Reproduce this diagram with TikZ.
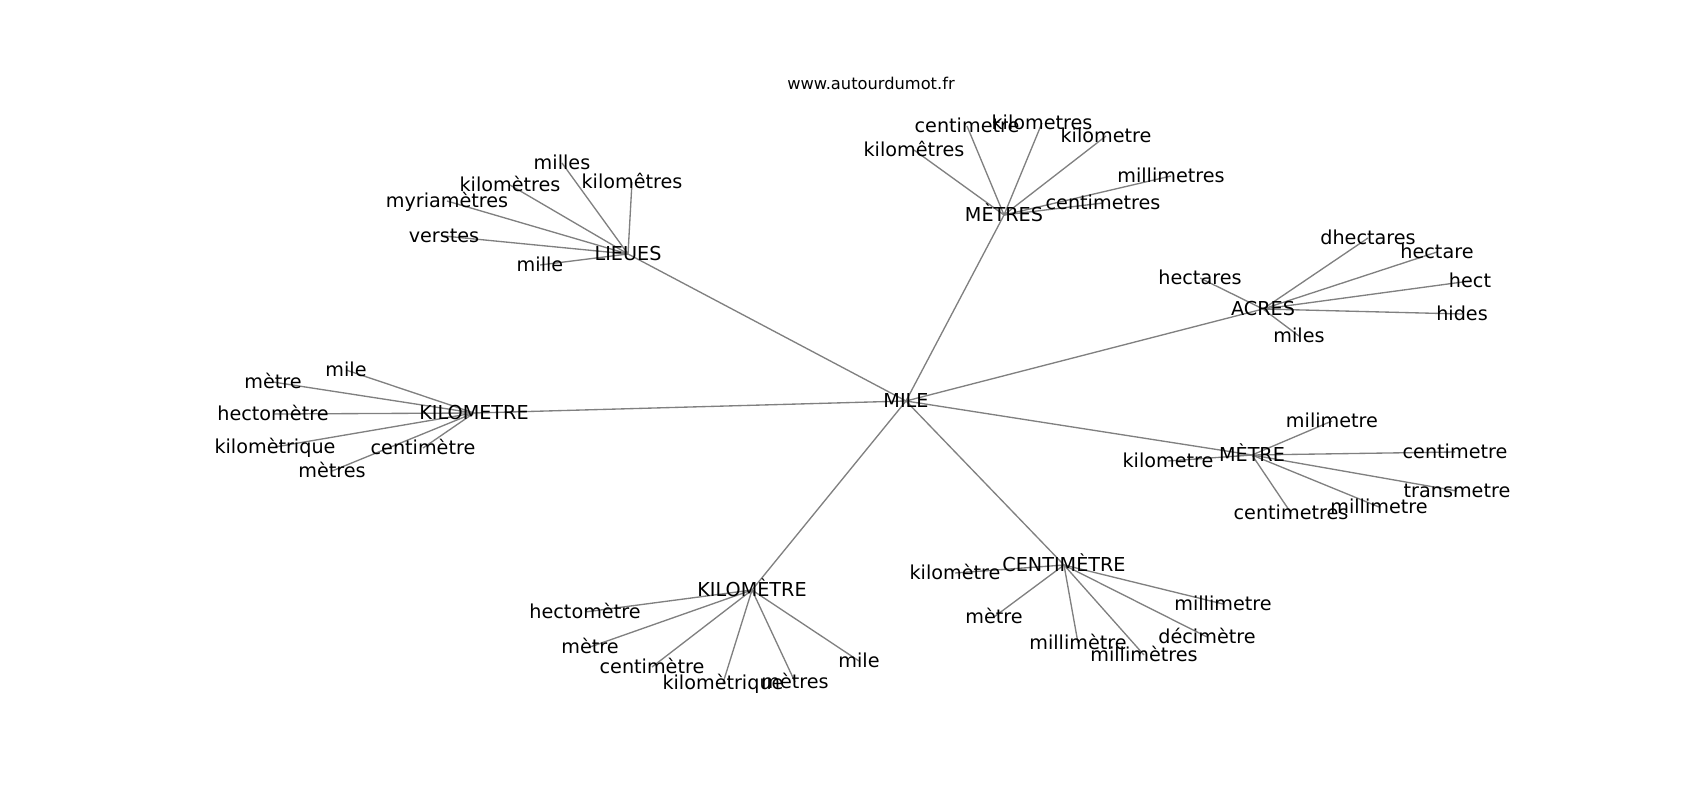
\documentclass[tikz,border=0pt]{standalone}
\usepackage{fontspec}
\setmainfont{DejaVu Sans}
\usepackage{tikz}

\pgfdeclarelayer{bg}
\pgfsetlayers{bg,main}

\tikzset{
  word/.style={inner sep=0pt, text height=0.95em, text depth=0pt, font=\fontsize{14.4}{16}\selectfont},
  link/.style={draw=gray, line width=1pt},
}

\begin{document}
\begin{tikzpicture}[x=0.75pt,y=0.75pt,yscale=-1,xscale=1]
%set diagram left start at 0, and has height of 800
\useasboundingbox (0,0) rectangle (1700,800);

% Title
\node [font=\fontsize{12.2}{14}\selectfont, inner sep=0pt, text height=0.95em, text depth=0pt] (site) at (871,83) {www.autourdumot.fr};

% Text Node: centre
\node [word] (mile) at (906,401) {MILE};

% Text Node: LIEUES
\node [word] (lieues) at (628,254) {LIEUES};
\node [word] (lu1) at (562,163) {milles};
\node [word] (lu2) at (632,182) {kilomêtres};
\node [word] (lu3) at (510,185) {kilomètres};
\node [word] (lu4) at (447,201) {myriamètres};
\node [word] (lu5) at (444,236) {verstes};
\node [word] (lu6) at (540,265) {mille};

% Text Node: MÈTRES
\node [word] (metres) at (1004,215) {MÈTRES};
\node [word] (ms1) at (967,126) {centimetre};
\node [word] (ms2) at (1042,123) {kilometres};
\node [word] (ms3) at (1106,136) {kilometre};
\node [word] (ms4) at (914,150) {kilomêtres};
\node [word] (ms5) at (1171,176) {millimetres};
\node [word] (ms6) at (1103,203) {centimetres};

% Text Node: ACRES
\node [word] (acres) at (1263,309) {ACRES};
\node [word] (ac1) at (1368,238) {dhectares};
\node [word] (ac2) at (1437,252) {hectare};
\node [word] (ac3) at (1470,281) {hect};
\node [word] (ac4) at (1462,314) {hides};
\node [word] (ac5) at (1200,278) {hectares};
\node [word] (ac6) at (1299,336) {miles};

% Text Node: KILOMETRE
\node [word] (kilometre) at (474,413) {KILOMETRE};
\node [word] (km1) at (346,370) {mile};
\node [word] (km2) at (273,382) {mètre};
\node [word] (km3) at (273,414) {hectomètre};
\node [word] (km4) at (275,447) {kilomètrique};
\node [word] (km5) at (423,448) {centimètre};
\node [word] (km6) at (332,471) {mètres};

% Text Node: MÈTRE
\node [word] (metre) at (1252,455) {MÈTRE};
\node [word] (mt1) at (1332,421) {milimetre};
\node [word] (mt2) at (1455,452) {centimetre};
\node [word] (mt3) at (1457,491) {transmetre};
\node [word] (mt4) at (1379,507) {millimetre};
\node [word] (mt5) at (1291,513) {centimetres};
\node [word] (mt6) at (1168,461) {kilometre};

% Text Node: CENTIMÈTRE
\node [word] (centimetre) at (1064,565) {CENTIMÈTRE};
\node [word] (cm1) at (955,573) {kilomètre};
\node [word] (cm2) at (994,617) {mètre};
\node [word] (cm3) at (1078,643) {millimètre};
\node [word] (cm4) at (1144,655) {millimètres};
\node [word] (cm5) at (1207,637) {décimètre};
\node [word] (cm6) at (1223,604) {millimetre};

% Text Node: KILOMÈTRE
\node [word] (kilometreb) at (752,590) {KILOMÈTRE};
\node [word] (kb1) at (585,612) {hectomètre};
\node [word] (kb2) at (590,647) {mètre};
\node [word] (kb3) at (652,667) {centimètre};
\node [word] (kb4) at (723,683) {kilomètrique};
\node [word] (kb5) at (795,682) {mètres};
\node [word] (kb6) at (859,661) {mile};

%Straight Lines
\begin{pgfonlayer}{bg}
\draw [link] (mile.center) -- (lieues.center);
\draw [link] (mile.center) -- (metres.center);
\draw [link] (mile.center) -- (acres.center);
\draw [link] (mile.center) -- (kilometre.center);
\draw [link] (mile.center) -- (metre.center);
\draw [link] (mile.center) -- (centimetre.center);
\draw [link] (mile.center) -- (kilometreb.center);
\draw [link] (lieues.center) -- (lu1.center);
\draw [link] (lieues.center) -- (lu2.center);
\draw [link] (lieues.center) -- (lu3.center);
\draw [link] (lieues.center) -- (lu4.center);
\draw [link] (lieues.center) -- (lu5.center);
\draw [link] (lieues.center) -- (lu6.center);
\draw [link] (metres.center) -- (ms1.center);
\draw [link] (metres.center) -- (ms2.center);
\draw [link] (metres.center) -- (ms3.center);
\draw [link] (metres.center) -- (ms4.center);
\draw [link] (metres.center) -- (ms5.center);
\draw [link] (metres.center) -- (ms6.center);
\draw [link] (acres.center) -- (ac1.center);
\draw [link] (acres.center) -- (ac2.center);
\draw [link] (acres.center) -- (ac3.center);
\draw [link] (acres.center) -- (ac4.center);
\draw [link] (acres.center) -- (ac5.center);
\draw [link] (acres.center) -- (ac6.center);
\draw [link] (kilometre.center) -- (km1.center);
\draw [link] (kilometre.center) -- (km2.center);
\draw [link] (kilometre.center) -- (km3.center);
\draw [link] (kilometre.center) -- (km4.center);
\draw [link] (kilometre.center) -- (km5.center);
\draw [link] (kilometre.center) -- (km6.center);
\draw [link] (metre.center) -- (mt1.center);
\draw [link] (metre.center) -- (mt2.center);
\draw [link] (metre.center) -- (mt3.center);
\draw [link] (metre.center) -- (mt4.center);
\draw [link] (metre.center) -- (mt5.center);
\draw [link] (metre.center) -- (mt6.center);
\draw [link] (centimetre.center) -- (cm1.center);
\draw [link] (centimetre.center) -- (cm2.center);
\draw [link] (centimetre.center) -- (cm3.center);
\draw [link] (centimetre.center) -- (cm4.center);
\draw [link] (centimetre.center) -- (cm5.center);
\draw [link] (centimetre.center) -- (cm6.center);
\draw [link] (kilometreb.center) -- (kb1.center);
\draw [link] (kilometreb.center) -- (kb2.center);
\draw [link] (kilometreb.center) -- (kb3.center);
\draw [link] (kilometreb.center) -- (kb4.center);
\draw [link] (kilometreb.center) -- (kb5.center);
\draw [link] (kilometreb.center) -- (kb6.center);
\end{pgfonlayer}

\end{tikzpicture}
\end{document}
